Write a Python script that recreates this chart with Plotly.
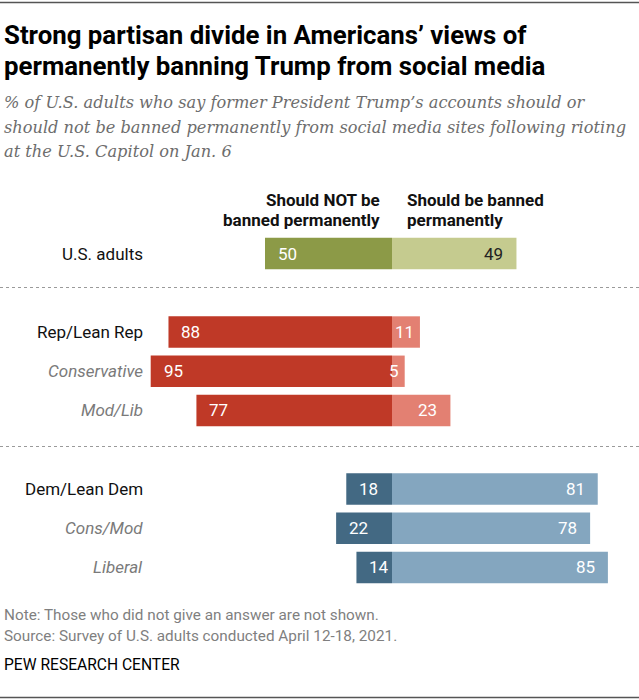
import plotly.graph_objects as go

W, H = 639, 700

# rows top to bottom, blank entries are the gaps between groups
rows = ["U.S. adults", " ", "Rep/Lean Rep", "Conservative", "Mod/Lib", "  ",
        "Dem/Lean Dem", "Cons/Mod", "Liberal"]
not_banned = [50, None, 88, 95, 77, None, 18, 22, 14]
banned = [49, None, 11, 5, 23, None, 81, 78, 85]
sub_rows = ["Conservative", "Mod/Lib", "Cons/Mod", "Liberal"]

title_lines = ["Strong partisan divide in Americans’ views of",
               "permanently banning Trump from social media"]
subtitle_lines = ["% of U.S. adults who say former President Trump’s accounts should or",
                  "should not be banned permanently from social media sites following rioting",
                  "at the U.S. Capitol on Jan. 6"]
left_head = ["Should NOT be", "banned permanently"]
right_head = ["Should be banned", "permanently"]
notes = ["Note: Those who did not give an answer are not shown.",
         "Source: Survey of U.S. adults conducted April 12-18, 2021."]

DARK = ["#8c9a47", "white", "#bf3927", "#bf3927", "#bf3927", "white", "#436983", "#436983", "#436983"]
LIGHT = ["#c5cb8f", "white", "#e38072", "#e38072", "#e38072", "white", "#84a6bf", "#84a6bf", "#84a6bf"]
LIGHT_TXT = ["#222222", None, "white", "white", "white", None, "white", "white", "white"]

SANS = "Roboto, Liberation Sans, Arial, sans-serif"
NARROW = "Liberation Sans Narrow, Roboto, Arial, sans-serif"
SERIF = "DejaVu Serif, Georgia, serif"

CENTER = 392   # px where the two sides meet
SCALE = 2.54   # px per percentage point


def px(x):
    return x / W


def py(y):
    return 1 - y / H


def label(x, y, text, size, family, color, anchor="left"):
    return dict(xref="paper", yref="paper", x=px(x), y=py(y), text=text,
                xanchor=anchor, yanchor="middle", showarrow=False,
                font=dict(family=family, size=size, color=color))


fig = go.Figure()
fig.add_trace(go.Bar(
    y=rows, x=[-v if v is not None else None for v in not_banned],
    orientation="h", marker=dict(color=DARK, line_width=0),
    name="Should NOT be banned permanently", hoverinfo="skip"))
fig.add_trace(go.Bar(
    y=rows, x=banned, orientation="h", marker=dict(color=LIGHT, line_width=0),
    name="Should be banned permanently", hoverinfo="skip"))

ann = []
for i, r in enumerate(rows):
    if not_banned[i] is None:
        continue
    sub = r in sub_rows
    ann.append(dict(xref="paper", yref="y", x=px(145), y=r,
                    text="<i>" + r + "</i>" if sub else r,
                    xanchor="right", showarrow=False,
                    font=dict(family=SANS, size=17,
                              color="#7a7a7a" if sub else "#111111")))
    v = not_banned[i]
    ann.append(dict(xref="x", yref="y", x=-v, y=r, text=str(v), xanchor="left",
                    xshift=11, showarrow=False,
                    font=dict(family=SANS, size=17, color="white")))
    b = banned[i]
    ann.append(dict(xref="x", yref="y", x=b, y=r, text=str(b), xanchor="right",
                    xshift=-4 if b < 15 else -11, showarrow=False,
                    font=dict(family=SANS, size=17, color=LIGHT_TXT[i])))

# column headers
for k, t in enumerate(left_head):
    ann.append(label(382, 200 + 20 * k, "<b>" + t + "</b>", 17, SANS, "#111111", "right"))
for k, t in enumerate(right_head):
    ann.append(label(405, 200 + 20 * k, "<b>" + t + "</b>", 17, SANS, "#111111"))

# title, subtitle, notes
for k, t in enumerate(title_lines):
    ann.append(label(2, 35 + 31 * k, "<b>" + t + "</b>", 25.8, NARROW, "#000000"))
for k, t in enumerate(subtitle_lines):
    ann.append(label(2, 103 + 24.5 * k, "<i>" + t + "</i>", 16.2, SERIF, "#6d6d6d"))
for k, t in enumerate(notes):
    ann.append(label(2, 615 + 20.5 * k, t, 15.3, SANS, "#7f7f7f"))
ann.append(label(2, 665, "PEW RESEARCH CENTER", 15.6, NARROW, "#000000"))

shapes = []
for yy in (287.5, 446.5):
    shapes.append(dict(type="line", xref="paper", yref="paper", x0=0, x1=1,
                       y0=py(yy), y1=py(yy),
                       line=dict(color="#9a9a9a", width=1.2, dash="dot")))
for yy in (2.5, 697.5):
    shapes.append(dict(type="line", xref="paper", yref="paper", x0=0, x1=1,
                       y0=py(yy), y1=py(yy),
                       line=dict(color="#555555", width=1.5)))

fig.update_layout(
    width=W, height=H, margin=dict(l=0, r=0, t=0, b=0),
    paper_bgcolor="white", plot_bgcolor="white",
    barmode="relative", bargap=0.2, showlegend=False,
    xaxis=dict(range=[-CENTER / SCALE, (W - CENTER) / SCALE], visible=False,
               fixedrange=True),
    yaxis=dict(categoryorder="array", categoryarray=rows, autorange="reversed",
               domain=[py(587.1), py(233.9)], visible=False, fixedrange=True),
    annotations=ann, shapes=shapes,
)

fig.write_html("out.html", config={"displayModeBar": False},
               post_script="document.body.style.margin='0';")
